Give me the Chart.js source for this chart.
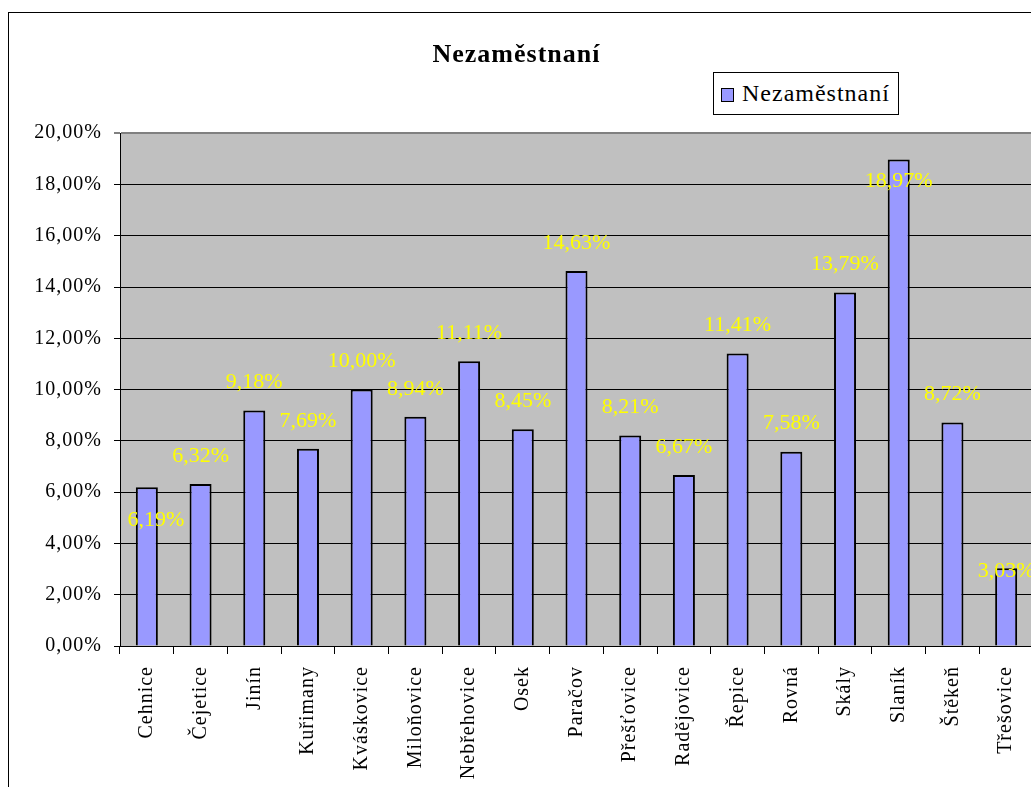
<!DOCTYPE html>
<html>
<head>
<meta charset="utf-8">
<script src="https://cdn.jsdelivr.net/npm/chart.js@4/dist/chart.umd.min.js"></script>
<style>
  html, body { margin: 0; padding: 0; background: #fff; overflow: hidden; }
  #wrap { position: absolute; left: 0; top: 0; width: 1045px; height: 800px; }
  #legend {
    position: absolute; left: 713px; top: 72px; width: 186px; height: 43px;
    border: 1px solid #000; background: #fff; box-sizing: border-box;
    font-family: "Liberation Serif", "Times New Roman", serif; font-size: 24px;
    letter-spacing: 1px; line-height: 41px; white-space: nowrap;
  }
  #legend span.sw {
    display: inline-block; width: 11px; height: 12px; background: #9999FF;
    border: 1.5px solid #000; margin: 0 8px 0 7px; vertical-align: -1px;
  }
</style>
</head>
<body>
<div id="wrap">
  <canvas id="barChart"></canvas>
  <div id="legend"><span class="sw"></span>Nezaměstnaní</div>
</div>
<script>
// data
const obce = ["Cehnice", "Čejetice", "Jinín", "Kuřimany", "Kváskovice", "Miloňovice",
  "Nebřehovice", "Osek", "Paračov", "Přešťovice", "Radějovice", "Řepice", "Rovná",
  "Skály", "Slaník", "Štěkeň", "Třešovice"];
const nezamestnani = [6.19, 6.32, 9.18, 7.69, 10.00, 8.94, 11.11, 8.45, 14.63, 8.21,
  6.67, 11.41, 7.58, 13.79, 18.97, 8.72, 3.03];
const yTicks = [0, 2, 4, 6, 8, 10, 12, 14, 16, 18, 20];

function pct(v) {
    return v.toFixed(2).replace(".", ",") + "%";
}

// gray plot area + outer frame + letter spacing like the old excel render
const excelLook = {
    id: "excelLook",
    beforeLayout(chart) { chart.ctx.letterSpacing = "1px"; },
    beforeDraw(chart) {
        const ctx = chart.ctx;
        const a = chart.chartArea;
        ctx.save();
        ctx.fillStyle = "#fff";
        ctx.fillRect(0, 0, chart.width, chart.height);
        ctx.fillStyle = "#C0C0C0";
        ctx.fillRect(a.left, a.top, a.right - a.left, a.bottom - a.top);
        ctx.strokeStyle = "#000";
        ctx.lineWidth = 1;
        ctx.strokeRect(8.5, 12.5, 3000, 3000);
        ctx.restore();
        ctx.letterSpacing = "1px";
    }
};

// yellow value labels, a few were dragged by hand in the original
const valueLabels = {
    id: "valueLabels",
    afterDatasetsDraw(chart, args, opts) {
        const ctx = chart.ctx;
        const meta = chart.getDatasetMeta(0);
        ctx.save();
        ctx.letterSpacing = "0px";
        ctx.font = "22px 'Liberation Serif', 'Times New Roman', serif";
        ctx.fillStyle = "#FFFF00";
        ctx.textAlign = "center";
        ctx.textBaseline = "middle";
        meta.data.forEach((bar, i) => {
            const shift = opts.moved[i];
            const dx = shift ? shift[0] : 0;
            const dy = shift ? shift[1] : -28;
            ctx.fillText(pct(nezamestnani[i]), bar.x + dx, bar.y + dy);
        });
        ctx.restore();
    }
};

const ctx = document.getElementById("barChart").getContext("2d");
const chart = new Chart(ctx, {
    type: "bar",
    data: {
        labels: obce,
        datasets: [{
            label: "Nezaměstnaní",
            data: nezamestnani,
            backgroundColor: "#9999FF",
            borderColor: "#000",
            borderWidth: 2,
            borderSkipped: "bottom",
            categoryPercentage: 1,
            barPercentage: 0.41
        }]
    },
    options: {
        responsive: true,
        maintainAspectRatio: false,
        animation: false,
        layout: { padding: { left: 0, right: 12, top: 0, bottom: 0 } },
        plugins: {
            legend: { display: false },
            tooltip: { enabled: false },
            title: {
                display: true,
                text: "Nezaměstnaní",
                color: "#000",
                font: { family: "'Liberation Serif', 'Times New Roman', serif", size: 26, weight: "bold" },
                padding: { top: 40, bottom: 62 }
            },
            valueLabels: { moved: { 0: [9, 33], 14: [0, 22], 16: [0, 3] } }
        },
        scales: {
            x: {
                afterFit(scale) { scale.height = 154; },
                grid: {
                    display: true, offset: true, drawOnChartArea: false,
                    color: "#000", tickLength: 8
                },
                border: { color: "#000", width: 1 },
                ticks: {
                    minRotation: 90, maxRotation: 90, padding: 12, color: "#000",
                    font: { family: "'Liberation Serif', 'Times New Roman', serif", size: 20 }
                }
            },
            y: {
                min: 0, max: 20,
                afterFit(scale) { scale.width = 120; },
                afterBuildTicks(scale) { scale.ticks = yTicks.map(v => ({ value: v })); },
                grid: {
                    color: c => c.tick && c.tick.value === 20 ? "#808080" : "#000",
                    lineWidth: c => c.tick && c.tick.value === 20 ? 2 : 1,
                    tickLength: 6
                },
                border: { color: "#000", width: 1 },
                ticks: {
                    padding: 12, color: "#000",
                    font: { family: "'Liberation Serif', 'Times New Roman', serif", size: 20 },
                    callback: v => pct(v)
                }
            }
        }
    },
    plugins: [excelLook, valueLabels]
});
</script>
</body>
</html>
